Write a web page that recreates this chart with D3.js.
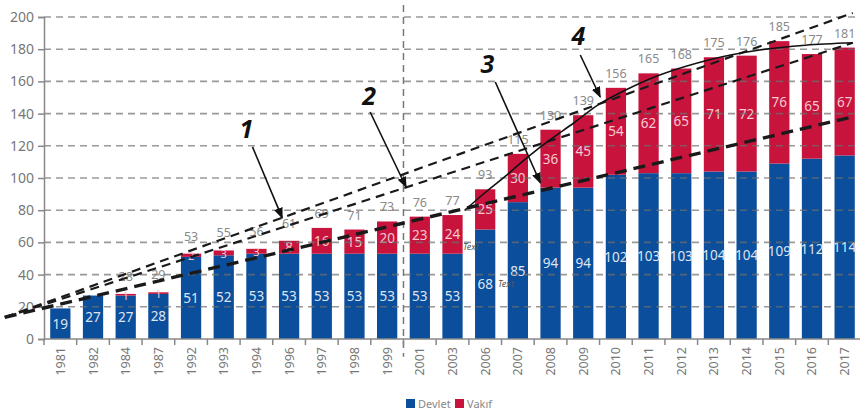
<!DOCTYPE html>
<html><head><meta charset="utf-8">
<script src="https://cdn.jsdelivr.net/npm/d3@7"></script>
<style>
body{margin:0;background:#fff;}
text{font-family:"Noto Sans",sans-serif;}
</style></head>
<body><svg id="c" width="860" height="414"></svg>
<script>
const years = ["1981","1982","1984","1987","1992","1993","1994","1996","1997","1998","1999","2001","2003","2006","2007","2008","2009","2010","2011","2012","2013","2014","2015","2016","2017"];
const devlet = [19,27,27,28,51,52,53,53,53,53,53,53,53,68,85,94,94,102,103,103,104,104,109,112,114];
const vakif  = [0,0,1,1,2,3,3,8,16,15,20,23,24,25,30,36,45,54,62,65,71,72,76,65,67];
const totals = [null,null,28,29,53,55,56,61,69,71,73,76,77,93,115,130,139,156,165,168,175,176,185,177,181];
const yTicks = [0,20,40,60,80,100,120,140,160,180,200];
const seriesNames = ["Devlet","Vakıf"];
const colors = ["#0b4f9c","#c8143d"];
// trend lines in (category index, value)
const trend1 = [[-1.7,13.5],[24.25,202.5]];
const trend2 = [[-1.7,13.5],[24.25,184]];
const trend3 = [[-1.7,13.5],[24.25,138]];
const curve4 = [[12.38,80],[13.0,91],[13.67,102],[14.3,113],[15.0,124],[15.7,134],[16.5,146],[17.33,155],[18.34,164],[19.87,173.5],[21.4,179.5],[22.8,182.5],[24.24,184]];
const annLabels = ["1","2","3","4"];
const annLabelPos = [[5.69,124.8],[9.45,145.3],[13.07,165.2],[15.85,182.6]];
const arrows = [[[5.88,119.3],[6.79,75.2]],[[9.48,141],[10.58,94.4]],[[13.31,159.6],[14.69,96.9]],[[15.91,176.4],[16.52,150.3]]];
const textNotes = [[12.32,55.3],[13.39,32.3]];

const svg = d3.select("#c");
const x = d3.scaleBand().domain(years).range([44,861]).paddingInner(0.38).paddingOuter(0.19);
const y = d3.scaleLinear().domain([0,200]).range([339,17]);
const step = x.step(), bw = x.bandwidth();
const xi = i => x(years[0]) + bw/2 + i*step;

svg.append("defs").append("marker").attr("id","ah").attr("viewBox","0 0 10 10")
  .attr("refX",9).attr("refY",5).attr("markerWidth",7).attr("markerHeight",7).attr("orient","auto")
  .append("path").attr("d","M0,1 L10,5 L0,9 Z").attr("fill","#111");

// bars
const g = svg.append("g");
years.forEach((yr,i)=>{
  g.append("rect").attr("x",x(yr)).attr("width",bw).attr("y",y(devlet[i])).attr("height",y(0)-y(devlet[i])).attr("fill",colors[0]);
  if(vakif[i]>0) g.append("rect").attr("x",x(yr)).attr("width",bw).attr("y",y(devlet[i]+vakif[i])).attr("height",y(devlet[i])-y(devlet[i]+vakif[i])).attr("fill",colors[1]);
});

// gridlines (over bars)
svg.append("g").selectAll("line").data(yTicks.filter(t=>t>0)).join("line")
  .attr("x1",44).attr("x2",858).attr("y1",d=>y(d)).attr("y2",d=>y(d))
  .attr("stroke","#6e6e6e").attr("stroke-opacity",0.7).attr("stroke-width",1.6).attr("stroke-dasharray","7,5");

// vertical divider
svg.append("line").attr("x1",xi(10.5)).attr("x2",xi(10.5)).attr("y1",y(207.5)).attr("y2",y(-11))
  .attr("stroke","#777").attr("stroke-width",1.5).attr("stroke-dasharray","7,5");

// value labels
years.forEach((yr,i)=>{
  const cx = x(yr)+bw/2;
  g.append("text").attr("x",cx).attr("y",y(devlet[i]/2)+5).attr("text-anchor","middle")
   .attr("font-size",13.5).attr("fill","#dfe4f0").text(devlet[i]);
  if(vakif[i]>0) g.append("text").attr("x",cx).attr("y",y(devlet[i]+vakif[i]/2)+5).attr("text-anchor","middle")
   .attr("font-size",vakif[i]<5?11:13.5).attr("fill","#f3c9d2").text(vakif[i]);
  if(totals[i]!==null) g.append("text").attr("x",cx).attr("y",y(devlet[i]+vakif[i])-(i<8?13:10)).attr("text-anchor","middle")
   .attr("font-size",12.5).attr("fill","#8a8a8a").text(totals[i]);
});

// y axis
const ya = svg.append("g").attr("transform","translate(44,0)")
  .call(d3.axisLeft(y).tickValues(yTicks).tickSize(6).tickPadding(4));
ya.select(".domain").attr("stroke","#888").attr("stroke-width",1.5);
ya.selectAll(".tick line").attr("stroke","#888").attr("stroke-width",1.5);
ya.selectAll(".tick text").attr("font-size",14).attr("fill","#777").attr("font-family","Noto Sans");

// x axis
const xa = svg.append("g").attr("transform","translate(0,339)");
xa.append("line").attr("x1",44).attr("x2",860).attr("stroke","#888").attr("stroke-width",1.5);
xa.selectAll("line.tk").data(d3.range(years.length)).join("line").attr("class","tk")
  .attr("x1",d=>xi(d)-step/2).attr("x2",d=>xi(d)-step/2).attr("y1",0).attr("y2",6)
  .attr("stroke","#888").attr("stroke-width",1.5);
xa.selectAll("text").data(years).join("text")
  .attr("transform",d=>`translate(${x(d)+bw/2+4.5},8) rotate(-90)`)
  .attr("text-anchor","end").attr("font-size",12.5).attr("fill","#777").text(d=>d);

// trend lines
const line = d3.line().x(d=>xi(d[0])).y(d=>y(d[1]));
[[trend1,2.2,"9,6"],[trend2,2.2,"9,6"],[trend3,3.4,"12,7"]].forEach(([d,w,da])=>{
  svg.append("path").attr("d",line(d)).attr("fill","none").attr("stroke","#1a1a1a").attr("stroke-width",w).attr("stroke-dasharray",da);
});
svg.append("path").attr("d",line.curve(d3.curveCatmullRom)(curve4)).attr("fill","none").attr("stroke","#111").attr("stroke-width",1.6);

// arrows and labels
arrows.forEach(a=>{
  svg.append("line").attr("x1",xi(a[0][0])).attr("y1",y(a[0][1])).attr("x2",xi(a[1][0])).attr("y2",y(a[1][1]))
    .attr("stroke","#111").attr("stroke-width",1.6).attr("marker-end","url(#ah)");
});
annLabels.forEach((t,k)=>{
  svg.append("text").attr("x",xi(annLabelPos[k][0])).attr("y",y(annLabelPos[k][1])).attr("text-anchor","middle")
    .attr("font-size",25).attr("font-weight","bold").attr("font-style","italic").attr("fill","#111")
    .attr("font-family","DejaVu Sans").text(t);
});
textNotes.forEach(p=>{
  svg.append("text").attr("x",xi(p[0])).attr("y",y(p[1])).attr("font-size",9).attr("font-style","italic")
    .attr("fill","#555").text("Text");
});

// legend
const lg = svg.append("g").attr("transform","translate(406,399)");
seriesNames.forEach((n,k)=>{
  const off = k*49;
  lg.append("rect").attr("x",off).attr("y",0).attr("width",9).attr("height",9).attr("fill",colors[k]);
  lg.append("text").attr("x",off+12).attr("y",9).attr("font-size",11).attr("fill","#888").text(n);
});
</script></body></html>
